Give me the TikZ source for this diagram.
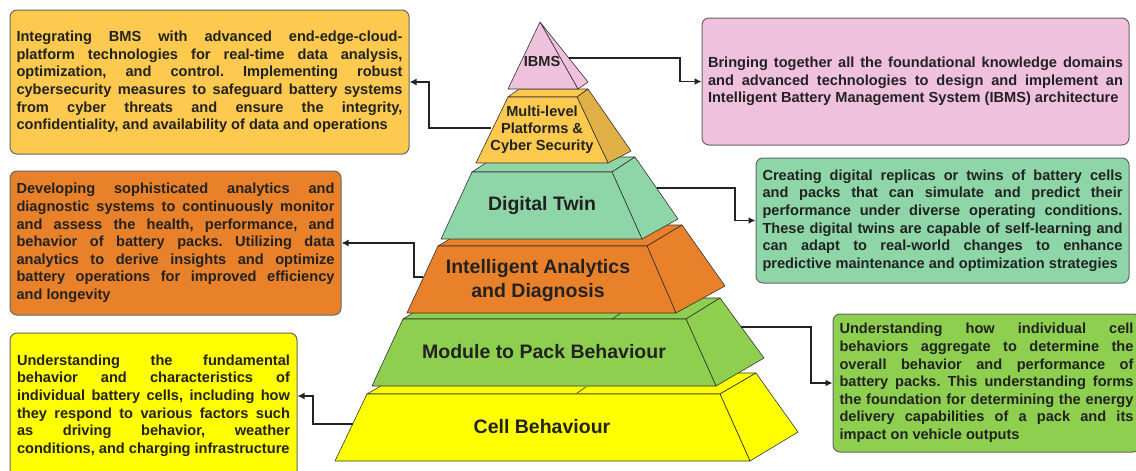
\documentclass[tikz,border=0pt]{standalone}
\usepackage{fontspec}
\setmainfont{Liberation Sans}
\usetikzlibrary{arrows.meta}

\definecolor{ibmspink}{HTML}{F0C1DD}
\definecolor{cyberyel}{HTML}{FDC94E}
\definecolor{cyberside}{HTML}{E0B046}
\definecolor{twingreen}{HTML}{8ED6A8}
\definecolor{analorange}{HTML}{E8812A}
\definecolor{packgreen}{HTML}{8ECF4F}
\definecolor{cellyellow}{HTML}{FFFF00}
\definecolor{ink}{HTML}{222222}

\begin{document}
\begin{tikzpicture}[x=1pt,y=-1pt,
    face/.style={draw=black!80,line width=.6pt,line join=round},
    infobox/.style={draw=black!60,line width=1pt,rounded corners=7pt,inner sep=0pt,
      align=justify,text=ink,font=\fontsize{14.6}{17.6}\selectfont\bfseries\frenchspacing,
      execute at begin node={\tolerance=10000\relax\hyphenpenalty=10000\relax}},
    tierlabel/.style={text=ink,font=\fontsize{19.5}{24}\selectfont\bfseries,align=center},
    smalllabel/.style={text=ink,font=\fontsize{14.6}{17}\selectfont\bfseries,align=center},
    link/.style={draw=ink,line width=1.6pt,-{Latex[length=7pt,width=7pt]}}]
  \clip (0,0) rectangle (1136,471);

  \foreach \col/\sd/\lt/\rt/\yt/\lb/\rb/\yb/\tdx/\tdy/\bdx/\bdy in {
      cellyellow/cellyellow/367/720/394/335/750/461/36/-21/48/-29,
      packgreen/packgreen/403/686/319/372/716/386/34/-21/48/-28,
      analorange/analorange/438/647/246/407/676/313/35/-21/49/-27,
      twingreen/twingreen/472/612/172/441/642/239/23/-15/36/-20,
      cyberyel/cyberside/508/577/97/476/608/163/11/-8/23/-12} {
    \filldraw[face,fill=\col] (\lt,\yt) -- (\rt,\yt) -- ++(\tdx,\tdy) -- ++(\lt-\rt,0) -- cycle;
    \filldraw[face,fill=\sd] (\rt,\yt) -- ++(\tdx,\tdy) -- ({\rb+\bdx},{\yb+\bdy}) -- (\rb,\yb) -- cycle;
    \filldraw[face,fill=\col] (\lt,\yt) -- (\rt,\yt) -- (\rb,\yb) -- (\lb,\yb) -- cycle;
  }
  \foreach \x/\y in {612/319,577/393}
    \draw[face] (\x,\y) -- ++(9,-6);
  \filldraw[face,fill=ibmspink] (540,22) -- (588,82) -- (578,89) -- cycle;
  \filldraw[face,fill=ibmspink] (540,22) -- (578,89) -- (508,89) -- cycle;

  \node[smalllabel] (ibms) at (542,61) {IBMS};
  \node[smalllabel] (cyber) at (542,130) {Multi-level\\Platforms \&\\Cyber Security};
  \node[tierlabel] (twin) at (542,205) {Digital Twin};
  \node[tierlabel] (analytics) at (538,280) {Intelligent Analytics\\and Diagnosis};
  \node[tierlabel] (pack) at (544,352) {Module to Pack Behaviour};
  \node[tierlabel] (cell) at (542,427) {Cell Behaviour};

  \node[infobox,fill=cyberyel,minimum width=399,minimum height=144,text width=386] (platbox) at (209.5,82)
    {Integrating BMS with advanced end-edge-cloud-\linebreak platform technologies for real-time data analysis,\linebreak optimization, and control. Implementing robust\linebreak cybersecurity measures to safeguard battery systems\linebreak from cyber threats and ensure the integrity,\linebreak confidentiality, and availability of data and operations};
  \node[infobox,fill=analorange,minimum width=331,minimum height=144,text width=318] (analbox) at (175.5,243)
    {Developing sophisticated analytics and\linebreak diagnostic systems to continuously monitor\linebreak and assess the health, performance, and\linebreak behavior of battery packs. Utilizing data\linebreak analytics to derive insights and optimize\linebreak battery operations for improved efficiency\linebreak and longevity};
  \node[infobox,fill=cellyellow,minimum width=287,minimum height=145,text width=273] (cellbox) at (153.5,405.5)
    {Understanding the fundamental\linebreak behavior and characteristics of\linebreak individual battery cells, including how\linebreak they respond to various factors such\linebreak as driving behavior, weather\linebreak conditions, and charging infrastructure};
  \node[infobox,fill=ibmspink,minimum width=427,minimum height=127,text width=415] (ibmsbox) at (915.5,81.5)
    {Bringing together all the foundational knowledge domains\linebreak and advanced technologies to design and implement an\linebreak Intelligent Battery Management System (IBMS) architecture};
  \node[infobox,fill=twingreen,minimum width=373,minimum height=125,text width=360] (twinbox) at (942.5,220.5)
    {Creating digital replicas or twins of battery cells\linebreak and packs that can simulate and predict their\linebreak performance under diverse operating conditions.\linebreak These digital twins are capable of self-learning and\linebreak can adapt to real-world changes to enhance\linebreak predictive maintenance and optimization strategies};
  \node[infobox,fill=packgreen,minimum width=307,minimum height=138,text width=294] (packbox) at (986.5,383)
    {Understanding how individual cell\linebreak behaviors aggregate to determine the\linebreak overall behavior and performance of\linebreak battery packs. This understanding forms\linebreak the foundation for determining the energy\linebreak delivery capabilities of a pack and its\linebreak impact on vehicle outputs};

  \coordinate (ibmsR) at (569,58);
  \coordinate (cyberL) at (491,128);
  \coordinate (twinR) at (657,188);
  \coordinate (analyticsL) at (423,277);
  \coordinate (packR) at (741,327);
  \coordinate (cellL) at (353,424);
  \draw[link] (ibmsR) -- ++(111,0) |- (ibmsbox.west);
  \draw[link] (cyberL) -- ++(-62,0) |- (platbox.east);
  \draw[link] (twinR) -- ++(78,0) |- (twinbox.west);
  \draw[link] (analyticsL) -- ++(-9,0) |- (analbox.east);
  \draw[link] (packR) -- ++(70,0) |- (packbox.west);
  \draw[link] (cellL) -- ++(-40,0) |- ([yshift=9.5pt]cellbox.east);
\end{tikzpicture}
\end{document}
